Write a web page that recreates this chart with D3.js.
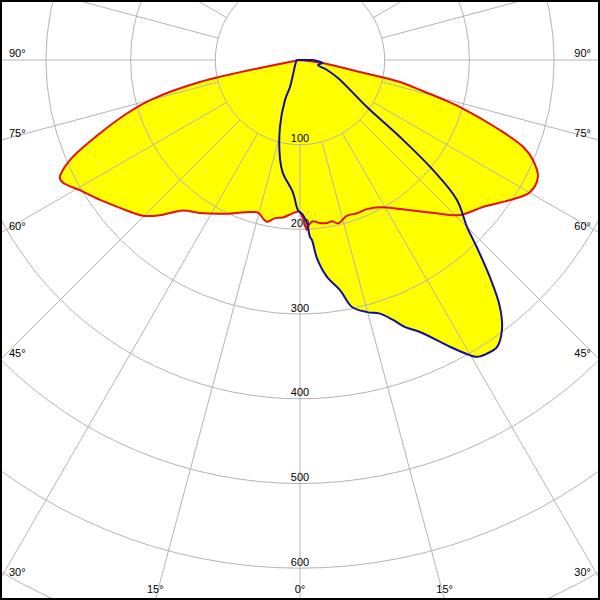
<!DOCTYPE html>
<html><head><meta charset="utf-8">
<script src="https://cdn.jsdelivr.net/npm/d3@7"></script>
<style>html,body{margin:0;padding:0;background:#fff;} svg{display:block}</style>
</head><body><svg id="c" width="600" height="600"></svg>
<script>
// ---- data (cd/klm) ----
const radialTicks = [100, 200, 300, 400, 500, 600];
const gridRings = [100, 200, 300, 400, 500, 600, 700, 800];
const spokeAngles = d3.range(0, 360, 15);
const sideLabels = [90, 75, 60, 45, 30];
const bottomLabels = [-15, 0, 15];

// C0-C180 plane (red)
const c0Angles = [-90, -80, -77.6, -75, -72.6, -69.9, -66.5, -63.8, -62.6, -59.4, -55, -50.6, -45.2, -42.1, -37.8, -33.2, -26, -18.3, -15.4, -11.6, -9, -6.2, -2.6, -0.4, 1.1, 2.3, 3.1, 4.6, 7, 9.4, 11.2, 13.1, 16.8, 20.4, 24.2, 28.6, 33.9, 41, 45.9, 51.2, 56.3, 60.1, 63.8, 66.8, 68.7, 70.7, 73.6, 74.8, 76, 77.6, 78.7, 82.6, 90];
const c0Values = [0, 2, 121, 183, 217, 251, 296, 316, 315, 302, 288, 275, 261, 247, 225, 216, 202, 189, 187, 195, 189, 187, 181, 179, 187, 201, 195, 191, 194, 195, 194, 198, 192, 193, 193, 198, 212, 239, 263, 277, 298, 313, 313, 299, 283, 250, 197, 171, 146, 121, 72, 27, 0];

// C90-C270 plane (blue)
const c90Angles = [-90, -45, -25, -20.3, -20.6, -16.6, -11.3, -8.6, -3, -0.8, 1.1, 2.5, 3.2, 3.8, 4.9, 7.1, 9.9, 11.9, 14.9, 17.5, 19.7, 21.5, 23.8, 27.6, 29.9, 30.8, 32.5, 34.5, 36.8, 39, 41.2, 43.3, 45, 48.3, 50.4, 52.4, 54.9, 64.6, 69.7, 74.5, 82.6, 90];
const c90Values = [4, 8, 20, 34, 50, 83, 120, 135, 157, 177, 183, 193, 209, 213, 235, 258, 276, 298, 308, 314, 326, 339, 351, 382, 402, 408, 411, 411, 398, 375, 340, 305, 279, 248, 204, 149, 97, 50, 34, 22, 27, 15];

// ---- layout ----
const W = 600, H = 600, cx = 300, cy = 60;
const r = d3.scaleLinear().domain([0, 100]).range([0, 84.7]);
const rad = d => d * Math.PI / 180;

const svg = d3.select("#c");
svg.append("defs").append("clipPath").attr("id", "clip")
  .append("rect").attr("x", 0).attr("y", 0).attr("width", W).attr("height", H);
svg.append("rect").attr("width", W).attr("height", H).attr("fill", "#fff");

const root = svg.append("g").attr("clip-path", "url(#clip)");
const g = root.append("g").attr("transform", `translate(${cx},${cy})`);

const line = d3.lineRadial()
  .angle(d => Math.PI - rad(d.a))
  .radius(d => r(d.v))
  .curve(d3.curveCatmullRom.alpha(0.5));

const red = c0Angles.map((a, i) => ({a, v: c0Values[i]}));
const blue = c90Angles.map((a, i) => ({a, v: c90Values[i]}));

// fills
g.append("path").attr("d", line(red) + "Z").attr("fill", "#ffff00");
g.append("path").attr("d", line(blue) + "Z").attr("fill", "#ffff00");

// grid
const gridCol = "#b4b4b4";
g.selectAll("circle.ring").data(gridRings).enter().append("circle")
  .attr("r", d => r(d)).attr("fill", "none").attr("stroke", gridCol).attr("stroke-width", 1);
g.selectAll("line.spoke").data(spokeAngles).enter().append("line")
  .attr("x1", d => r(100) * Math.sin(rad(d)))
  .attr("y1", d => r(100) * Math.cos(rad(d)))
  .attr("x2", d => r(900) * Math.sin(rad(d)))
  .attr("y2", d => r(900) * Math.cos(rad(d)))
  .attr("stroke", gridCol).attr("stroke-width", 1);

// labels
const font = "'Liberation Sans', Arial, sans-serif";
g.selectAll("text.rt").data(radialTicks).enter().append("text")
  .attr("x", 0).attr("y", d => r(d) - 2.5)
  .attr("text-anchor", "middle").attr("font-family", font).attr("font-size", 11)
  .attr("fill", "#000").text(d => d);

function edgeY(a) { return cy + cx * Math.cos(rad(a)) / Math.sin(rad(a)); }
sideLabels.forEach(a => {
  const y = edgeY(a) - 3.5;
  svg.append("text").attr("x", 9).attr("y", y).attr("font-family", font).attr("font-size", 11)
    .attr("fill", "#000").text(a + "°");
  svg.append("text").attr("x", 591).attr("y", y).attr("text-anchor", "end").attr("font-family", font)
    .attr("font-size", 11).attr("fill", "#000").text(a + "°");
});
bottomLabels.forEach(a => {
  const x = cx + (H - cy) * Math.tan(rad(a));
  svg.append("text").attr("x", x).attr("y", 593).attr("text-anchor", "middle").attr("font-family", font)
    .attr("font-size", 11).attr("fill", "#000").text(Math.abs(a) + "°");
});

// curves
g.append("path").attr("d", line(red) + "Z").attr("fill", "none")
  .attr("stroke", "#e41010").attr("stroke-width", 2).attr("stroke-linejoin", "round");
g.append("path").attr("d", line(blue) + "Z").attr("fill", "none")
  .attr("stroke", "#10109c").attr("stroke-width", 2).attr("stroke-linejoin", "round");

// frame
svg.append("rect").attr("x", 1).attr("y", 1).attr("width", W - 2).attr("height", H - 2)
  .attr("fill", "none").attr("stroke", "#000").attr("stroke-width", 2);
</script>
</body></html>
